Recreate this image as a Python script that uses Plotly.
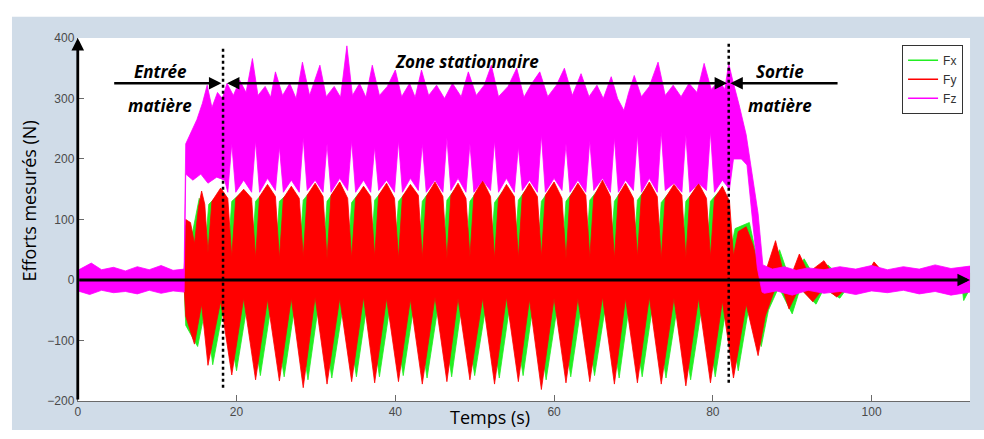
import plotly.graph_objects as go

# ---------------- data (envelopes) ----------------
# Fy (red): upper envelope
fy_t_hi = [0.0, 13.4, 13.6, 14.2, 14.7, 15.2, 15.6,
           16.0, 16.4, 16.9, 18.0, 18.9, 19.4, 19.9, 20.9, 21.9, 22.4, 22.9, 23.9,
           24.9, 25.4, 25.9, 26.9, 27.9, 28.4, 28.9, 29.9, 30.9, 31.4, 31.9, 33.0,
           34.0, 34.5, 35.0, 36.0, 36.9, 37.4, 37.9, 38.9, 39.9, 40.4, 40.9, 41.9,
           42.9, 43.4, 43.9, 45.0, 46.0, 46.5, 47.0, 47.9, 48.9, 49.4, 49.9, 51.0,
           52.0, 52.5, 53.0, 54.0, 55.0, 55.5, 56.0, 56.9, 57.9, 58.4, 58.9, 60.0,
           61.0, 61.5, 62.0, 63.0, 64.0, 64.5, 65.0, 66.1, 67.1, 67.6, 68.1, 69.0,
           70.0, 70.5, 71.0, 72.0, 73.0, 73.5, 74.0, 75.1, 76.1, 76.6, 77.1, 78.2,
           79.2, 79.7, 80.2, 81.2, 82.1, 82.6, 83.2, 84.2, 85.0, 85.7, 86.6, 87.9,
           88.9, 90.0, 90.9, 92.0, 94.0, 95.0, 99.5, 100.3, 101.5, 112.4]
fy_hi = [10, 10, 100, 95, 60, 120, 147,
         125, 45, 130, 152, 135, 38, 135, 150, 135, 36, 138, 158,
         138, 35, 135, 155, 135, 38, 140, 160, 138, 35, 140, 162,
         135, 36, 135, 155, 138, 38, 140, 160, 135, 35, 138, 158,
         140, 36, 138, 162, 138, 35, 140, 160, 135, 38, 140, 165,
         138, 35, 135, 158, 138, 36, 140, 160, 138, 38, 140, 162,
         135, 35, 138, 160, 140, 36, 138, 165, 138, 35, 140, 160,
         135, 38, 140, 162, 138, 35, 135, 158, 140, 36, 138, 160,
         135, 38, 135, 155, 130, 40, 80, 88, 60, 25, 12, 65,
         12, 12, 43, 12, 32, 12, 12, 30, 12, 12]
# Fy (red): lower envelope
fy_t_lo = [0.0, 13.4, 13.6, 14.7, 15.6, 16.4, 18.0, 19.4, 20.9, 22.4, 23.9, 25.4, 26.9,
           28.4, 29.9, 31.4, 33.0, 34.5, 36.0, 37.4, 38.9, 40.4, 41.9, 43.4, 45.0, 46.5,
           47.9, 49.4, 51.0, 52.5, 54.0, 55.5, 56.9, 58.4, 60.0, 61.5, 63.0, 64.5, 66.1,
           67.6, 69.0, 70.5, 72.0, 73.5, 75.1, 76.6, 78.2, 79.7, 81.2, 82.6, 84.2, 85.7,
           86.6, 87.9, 88.9, 89.6, 90.9, 92.6, 94.0, 95.6, 97.0, 112.4]
fy_lo = [-10, -10, -60, -106, -40, -141, -35, -157, -30, -165, -32, -167, -30,
         -178, -28, -172, -30, -168, -28, -170, -30, -168, -32, -172, -28, -168,
         -30, -165, -30, -172, -28, -168, -32, -181, -30, -170, -30, -168, -28,
         -172, -30, -170, -28, -172, -30, -175, -30, -170, -35, -162, -40, -125,
         -60, -12, -20, -48, -12, -36, -12, -28, -12, -12]

# Fx (green): upper envelope
fx_t_hi = [0.0, 13.4, 13.6, 14.4, 15.3, 15.5, 16.0, 16.5, 17.6,
           18.4, 18.9, 19.4, 20.4, 21.4, 21.9, 22.4, 23.4, 24.4, 24.9, 25.4, 26.4,
           27.4, 27.9, 28.4, 29.4, 30.4, 30.9, 31.4, 32.5, 33.5, 34.0, 34.5, 35.5,
           36.4, 36.9, 37.4, 38.4, 39.4, 39.9, 40.4, 41.4, 42.4, 42.9, 43.4, 44.5,
           45.5, 46.0, 46.5, 47.4, 48.4, 48.9, 49.4, 50.5, 51.5, 52.0, 52.5, 53.5,
           54.5, 55.0, 55.5, 56.4, 57.4, 57.9, 58.4, 59.5, 60.5, 61.0, 61.5, 62.5,
           63.5, 64.0, 64.5, 65.6, 66.6, 67.1, 67.6, 68.5, 69.5, 70.0, 70.5, 71.5,
           72.5, 73.0, 73.5, 74.6, 75.6, 76.1, 76.6, 77.7, 78.7, 79.2, 79.7, 80.7,
           81.6, 82.1, 82.8, 84.6, 85.5, 86.3, 87.5, 88.4, 89.4, 90.5, 91.5, 92.5,
           93.5, 94.5, 95.5, 112.4]
fx_hi = [10, 10, 90, 75, 135, 125, 45, 125, 140,
         128, 36, 130, 142, 130, 35, 130, 145, 128, 35, 130, 142,
         130, 36, 132, 148, 130, 35, 130, 150, 130, 35, 128, 145,
         130, 36, 132, 148, 128, 35, 130, 146, 130, 35, 130, 150,
         130, 36, 132, 148, 128, 35, 130, 150, 130, 35, 128, 146,
         130, 36, 132, 148, 130, 35, 130, 150, 128, 35, 130, 148,
         130, 36, 132, 150, 130, 35, 130, 148, 128, 36, 132, 150,
         130, 35, 128, 146, 130, 36, 130, 148, 128, 35, 130, 145,
         125, 40, 85, 95, 40, 12, 12, 50, 12, 12, 35, 12,
         12, 25, 12, 12]
# Fx (green): lower envelope
fx_t_lo = [0.0, 13.4, 13.6, 15.1, 16.1, 17.0, 18.5, 20.0, 21.5, 23.0, 24.5, 26.0, 27.5, 29.0,
           30.5, 32.0, 33.6, 35.1, 36.6, 38.0, 39.5, 41.0, 42.5, 44.0, 45.6, 47.1, 48.5, 50.0,
           51.6, 53.1, 54.6, 56.1, 57.5, 59.0, 60.6, 62.1, 63.6, 65.1, 66.7, 68.2, 69.6, 71.1,
           72.6, 74.1, 75.7, 77.2, 78.8, 80.3, 81.8, 83.2, 84.6, 86.1, 87.0, 88.3, 90.0, 91.0,
           93.0, 94.0, 96.0, 97.0, 111.4, 111.6, 112.4]
fx_lo = [-10, -10, -75, -110, -45, -140, -35, -150, -28, -158, -30, -160, -28, -165,
         -25, -162, -28, -160, -25, -160, -28, -158, -28, -162, -25, -160, -28, -158,
         -28, -162, -25, -158, -28, -165, -28, -160, -26, -158, -25, -162, -28, -160,
         -25, -162, -28, -165, -28, -160, -35, -150, -40, -110, -50, -12, -56, -14,
         -40, -14, -30, -12, -12, -34, -14]

# Fz (magenta): upper envelope
fz_t_hi = [0.0, 1.7, 3.0, 4.5, 6.0, 7.5, 9.0, 10.5, 12.0, 13.4, 13.6, 14.3, 15.0, 15.7, 16.3,
           16.9, 17.6, 18.2, 18.8, 19.6, 20.4, 21.2, 22.0, 22.7, 23.6, 24.3, 24.9, 25.8, 26.7,
           27.5, 28.3, 29.2, 30.5, 31.3, 32.3, 33.1, 33.9, 34.6, 35.5, 36.3, 37.1, 38.0, 39.0,
           40.0, 40.8, 41.8, 42.5, 43.3, 44.2, 45.2, 46.2, 47.2, 48.3, 49.2, 50.2, 51.2, 52.1,
           53.0, 54.2, 55.3, 56.2, 57.2, 58.2, 59.2, 60.3, 61.3, 62.3, 63.4, 64.4, 65.4, 66.2,
           67.2, 68.0, 68.8, 69.4, 70.1, 71.0, 72.0, 73.1, 74.0, 75.0, 76.0, 77.0, 78.0, 78.9,
           79.8, 80.8, 81.5, 82.0, 82.5, 83.3, 84.2, 85.0, 85.7, 86.3, 87.5, 89.0, 90.5, 92.0,
           94.0, 96.0, 98.0, 100.0, 102.0, 104.0, 106.0, 108.0, 110.0, 112.4]
fz_hi = [16, 28, 17, 21, 15, 22, 17, 24, 16, 18, 225, 245, 265, 292, 322,
         285, 310, 300, 325, 305, 330, 310, 366, 305, 320, 302, 344, 305, 325,
         300, 360, 305, 355, 303, 320, 302, 387, 305, 325, 302, 355, 305, 320,
         347, 303, 325, 302, 347, 305, 322, 300, 325, 303, 344, 305, 322, 355,
         303, 320, 350, 302, 325, 344, 303, 322, 350, 305, 341, 303, 322, 300,
         336, 300, 280, 310, 338, 303, 320, 360, 305, 322, 303, 325, 310, 358,
         315, 330, 315, 358, 330, 290, 240, 170, 110, 25, 18, 22, 16, 20,
         17, 22, 18, 24, 17, 22, 18, 25, 19, 23]
# Fz (magenta): lower envelope
fz_t_lo = [0.0, 1.5, 3.0, 4.5, 6.0, 7.5, 9.0, 10.5, 12.0, 13.4, 13.6, 14.5, 15.5, 16.4, 17.5,
           18.5, 18.9, 19.4, 19.9, 20.9, 21.9, 22.4, 22.9, 23.9, 24.9, 25.4, 25.9, 26.9,
           27.9, 28.4, 28.9, 29.9, 30.9, 31.4, 31.9, 33.0, 34.0, 34.5, 35.0, 36.0,
           36.9, 37.4, 37.9, 38.9, 39.9, 40.4, 40.9, 41.9, 42.9, 43.4, 43.9, 45.0,
           46.0, 46.5, 47.0, 47.9, 48.9, 49.4, 49.9, 51.0, 52.0, 52.5, 53.0, 54.0,
           55.0, 55.5, 56.0, 56.9, 57.9, 58.4, 58.9, 60.0, 61.0, 61.5, 62.0, 63.0,
           64.0, 64.5, 65.0, 66.1, 67.1, 67.6, 68.1, 69.0, 70.0, 70.5, 71.0, 72.0,
           73.0, 73.5, 74.0, 75.1, 76.1, 76.6, 77.1, 78.2, 79.2, 79.7, 80.2, 81.2,
           82.1, 82.6, 83.6, 84.3, 85.0, 85.6, 86.2, 86.5, 88.0, 90.0, 92.0, 94.0,
           96.0, 98.0, 100.0, 102.0, 104.0, 106.0, 108.0, 110.0, 112.4]
fz_lo = [-18, -24, -17, -21, -19, -23, -17, -22, -18, -20, 175, 165, 175, 160, 170,
         165, 145, 225, 145, 165, 145, 230, 145, 168, 148, 220, 145, 165,
         145, 235, 148, 165, 145, 225, 145, 168, 148, 230, 145, 165,
         145, 220, 148, 165, 145, 230, 145, 168, 148, 225, 145, 165,
         145, 235, 148, 168, 145, 225, 145, 165, 148, 230, 145, 168,
         145, 220, 148, 165, 145, 240, 145, 168, 148, 225, 145, 165,
         145, 230, 148, 168, 145, 235, 145, 165, 148, 240, 145, 168,
         145, 245, 148, 160, 145, 240, 145, 160, 148, 245, 145, 165,
         150, 200, 200, 190, 100, 20, -20, -22, -18, -25, -17, -22,
         -19, -24, -18, -21, -17, -23, -19, -25, -20]

series_names = ["Fx", "Fy", "Fz"]
series_colors = ["#22ee22", "#ff0000", "#ff00ff"]

x_ticks = [0, 20, 40, 60, 80, 100]
y_ticks = [-200, -100, 0, 100, 200, 300, 400]

# ---------------- figure ----------------
fig = go.Figure()

def band(t_hi, hi, t_lo, lo):
    return list(t_hi) + list(t_lo)[::-1], list(hi) + list(lo)[::-1]

bands = [band(fx_t_hi, fx_hi, fx_t_lo, fx_lo),
         band(fy_t_hi, fy_hi, fy_t_lo, fy_lo),
         band(fz_t_hi, fz_hi, fz_t_lo, fz_lo)]

for (bx, by), col in zip(bands, series_colors):
    fig.add_trace(go.Scatter(x=bx, y=by, fill="toself", fillcolor=col, mode="lines",
                             line=dict(color=col, width=0.8), showlegend=False,
                             hoverinfo="skip"))

for name, col in zip(series_names, series_colors):
    fig.add_trace(go.Scatter(x=[None], y=[None], mode="lines", name=name,
                             line=dict(color=col, width=1.5)))

W, H = 984, 439
L, R, T, B = 75, 970, 32, 407

fig.update_layout(
    width=W, height=H,
    margin=dict(l=0, r=0, t=0, b=0),
    paper_bgcolor="white",
    plot_bgcolor="rgba(0,0,0,0)",
    xaxis=dict(domain=[L / W, R / W], range=[0, 112.4], tickvals=x_ticks,
               showgrid=False, zeroline=False, showline=True, linecolor="#6a6a6a",
               linewidth=1, ticks="inside", ticklen=6, tickcolor="#6a6a6a",
               tickfont=dict(family="Liberation Sans", size=12, color="#4a4a4a")),
    yaxis=dict(domain=[1 - B / H, 1 - T / H], range=[-200, 400], tickvals=y_ticks,
               showgrid=False, zeroline=False, showline=True, linecolor="#6a6a6a",
               linewidth=1, ticks="inside", ticklen=6, tickcolor="#6a6a6a",
               tickfont=dict(family="Liberation Sans", size=12, color="#4a4a4a")),
    legend=dict(x=963 / W, xanchor="right", y=1 - 39 / H, yanchor="top",
                bgcolor="white", bordercolor="#333333", borderwidth=1,
                font=dict(family="Liberation Sans", size=12, color="#333333"),
                tracegroupgap=0),
    shapes=[
        dict(type="rect", xref="paper", yref="paper", x0=9 / W, x1=1, y0=1 - 437 / H,
             y1=1 - 10 / H, fillcolor="#d0dce8", line=dict(width=0), layer="below"),
        dict(type="rect", xref="paper", yref="paper", x0=L / W, x1=R / W, y0=1 - B / H,
             y1=1 - T / H, fillcolor="white", line=dict(width=0), layer="below"),
        dict(type="line", xref="x", yref="y", x0=18.3, x1=18.3, y0=-178, y1=387,
             line=dict(color="black", width=2.5, dash="dot")),
        dict(type="line", xref="x", yref="y", x0=82.0, x1=82.0, y0=-170, y1=395,
             line=dict(color="black", width=2.5, dash="dot")),
    ],
)

ann = []
# axis arrows
ann.append(dict(x=112.4, y=0, ax=0, ay=0, xref="x", yref="y", axref="x", ayref="y",
                text="", showarrow=True, arrowhead=2, arrowsize=0.9, arrowwidth=2.8,
                arrowcolor="black"))
ann.append(dict(x=0, y=400, ax=0, ay=-200, xref="x", yref="y", axref="x", ayref="y",
                text="", showarrow=True, arrowhead=2, arrowsize=0.9, arrowwidth=2.8,
                arrowcolor="black"))
# phase arrows
ann.append(dict(x=18.1, y=325, ax=4.4, ay=325, xref="x", yref="y", axref="x", ayref="y",
                text="", showarrow=True, arrowhead=2, arrowsize=1.0, arrowwidth=2.5,
                arrowcolor="black"))
ann.append(dict(x=81.8, y=325, ax=18.6, ay=325, xref="x", yref="y", axref="x", ayref="y",
                text="", showarrow=True, arrowhead=2, startarrowhead=2, arrowside="end+start",
                arrowsize=1.0, startarrowsize=1.0, arrowwidth=2.5, arrowcolor="black"))
ann.append(dict(x=82.2, y=325, ax=95.9, ay=325, xref="x", yref="y", axref="x", ayref="y",
                text="", showarrow=True, arrowhead=2, arrowsize=1.0, arrowwidth=2.5,
                arrowcolor="black"))

tfont = dict(family="Open Sans", size=17, color="black")
for txt, x, y in [("Entrée", 10.4, 344), ("matière", 10.3, 288),
                  ("Zone stationnaire", 49.0, 361), ("Sortie", 88.4, 344),
                  ("matière", 88.4, 288)]:
    ann.append(dict(x=x, y=y, xref="x", yref="y", text=f"<b><i>{txt}</i></b>",
                    showarrow=False, font=tfont, xanchor="center", yanchor="middle"))

ann.append(dict(x=488 / W, y=1 - 423 / H, xref="paper", yref="paper", text="Temps (s)",
                showarrow=False, font=dict(family="Open Sans", size=18, color="black"),
                xanchor="center", yanchor="middle"))
ann.append(dict(x=26 / W, y=1 - 200 / H, xref="paper", yref="paper",
                text="Efforts mesurés (N)", textangle=-90, showarrow=False,
                font=dict(family="Open Sans", size=18, color="black"),
                xanchor="center", yanchor="middle"))
fig.update_layout(annotations=ann)

fig.write_html("out.html", config={"displayModeBar": False},
               post_script="document.body.style.margin='0';")
